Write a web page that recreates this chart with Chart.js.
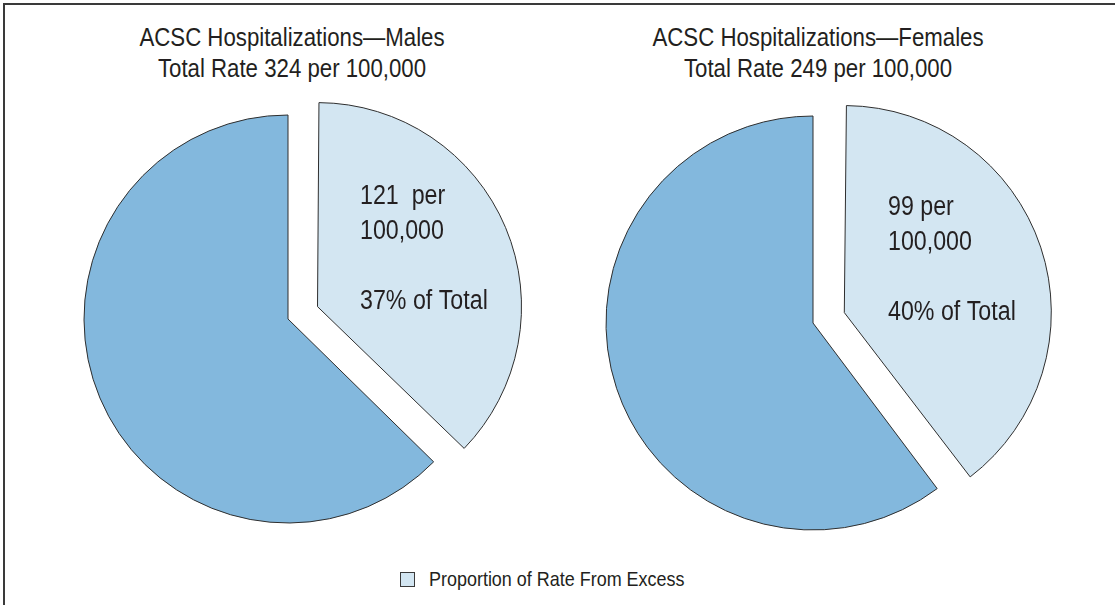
<!DOCTYPE html>
<html>
<head>
<meta charset="utf-8">
<script src="https://cdn.jsdelivr.net/npm/chart.js@4"></script>
<style>
  html, body { margin: 0; padding: 0; background: #fff; }
  body { width: 1115px; height: 605px; position: relative; overflow: hidden;
         font-family: "Liberation Sans", Arial, sans-serif; color: #231f20; }
  .frame { position: absolute; left: 3px; top: 3px; width: 1120px; height: 610px;
           border-left: 2px solid #3a3a3a; border-top: 2px solid #3a3a3a; }
  /* narrow the sans face to get a condensed look */
  .title { position: absolute; top: 22px; width: 500px; text-align: center;
           font-size: 26px; line-height: 31px; transform: scaleX(0.855); transform-origin: 50% 50%; }
  canvas { position: absolute; }
  .legend { position: absolute; top: 567px; left: 400px; height: 24px;
            display: flex; align-items: center; }
  .legend .box { width: 13px; height: 13px; border: 1px solid #3a3a3a; margin-right: 14px; }
  .legend span { font-size: 21px; line-height: 24px; display: inline-block;
                 transform: scaleX(0.855); transform-origin: 0 50%; white-space: nowrap; }
</style>
</head>
<body>
<div class="frame"></div>
<div class="title" id="title0"></div>
<div class="title" id="title1"></div>
<canvas id="pie0" width="500" height="478"></canvas>
<canvas id="pie1" width="500" height="478"></canvas>
<div class="legend"><div class="box" id="legendBox"></div><span id="legendText"></span></div>

<script>
// hospitalization rates per 100,000
const groups = ['Males', 'Females'];
const totalRates = [324, 249];
const excessRates = [121, 99];
const sliceNames = ['Proportion of Rate From Excess', 'Remainder of Rate'];
const sliceColors = ['#d3e6f2', '#83b8dd'];

// layout for each pie: centre, radius, how far the excess slice is pulled out, label spot
const pies = [
  { cx: 288, cy: 319, r: 204, pull: 32, textDx: 72, textDy: -122, titleX: 292, gap: '  ' },
  { cx: 813, cy: 323, r: 207, pull: 33, textDx: 75, textDy: -115, titleX: 818, gap: ' ' }
];

// Chart.js v4 moves an arc by offset/4 and also grows its radius by offset/4 * (1 - sin(circumference));
// take that growth back off so the pulled slice keeps the pie's radius
const keepRadius = {
  id: 'keepRadius',
  afterDatasetUpdate(chart) {
    chart.getDatasetMeta(0).data.forEach(arc => {
      const off = (arc.options.offset || 0) / 4;
      const circ = arc.endAngle - arc.startAngle;
      arc.outerRadius -= off * (1 - Math.sin(Math.min(Math.PI, circ)));
    });
  }
};

const sliceText = {
  id: 'sliceText',
  afterDatasetsDraw(chart, args, opts) {
    const arc = chart.getDatasetMeta(0).data[0];
    const ctx = chart.ctx;
    ctx.save();
    ctx.font = '27px "Liberation Sans", Arial, sans-serif';
    ctx.fillStyle = '#231f20';
    ctx.textAlign = 'left';
    ctx.textBaseline = 'middle';
    ctx.translate(arc.x + opts.dx, arc.y + opts.dy);
    ctx.scale(0.86, 1);
    opts.lines.forEach((line, k) => {
      if (line) ctx.fillText(line, 0, k * 35);
    });
    ctx.restore();
  }
};

groups.forEach((g, i) => {
  const p = pies[i];
  const excess = excessRates[i];
  const total = totalRates[i];
  const share = excess / total;

  const title = document.getElementById('title' + i);
  title.style.left = (p.titleX - 250) + 'px';
  title.innerHTML = 'ACSC Hospitalizations\u2014' + g + '<br>Total Rate ' + total + ' per 100,000';

  const canvas = document.getElementById('pie' + i);
  canvas.style.left = (p.cx - canvas.width / 2) + 'px';
  canvas.style.top = (p.cy - canvas.height / 2) + 'px';

  new Chart(canvas.getContext('2d'), {
    type: 'pie',
    data: {
      labels: sliceNames,
      datasets: [{
        data: [excess, total - excess],
        backgroundColor: sliceColors,
        borderColor: '#2e2e2e',
        borderWidth: 1,
        offset: [p.pull * 4, 0]
      }]
    },
    options: {
      responsive: false,
      animation: false,
      radius: p.r,
      layout: { padding: 0 },
      plugins: {
        legend: { display: false },
        tooltip: { enabled: true },
        sliceText: {
          dx: p.textDx,
          dy: p.textDy,
          lines: [excess + p.gap + 'per', '100,000', '', Math.round(share * 100) + '% of Total']
        }
      }
    },
    plugins: [keepRadius, sliceText]
  });
});

document.getElementById('legendBox').style.background = sliceColors[0];
document.getElementById('legendText').textContent = sliceNames[0];
</script>
</body>
</html>
